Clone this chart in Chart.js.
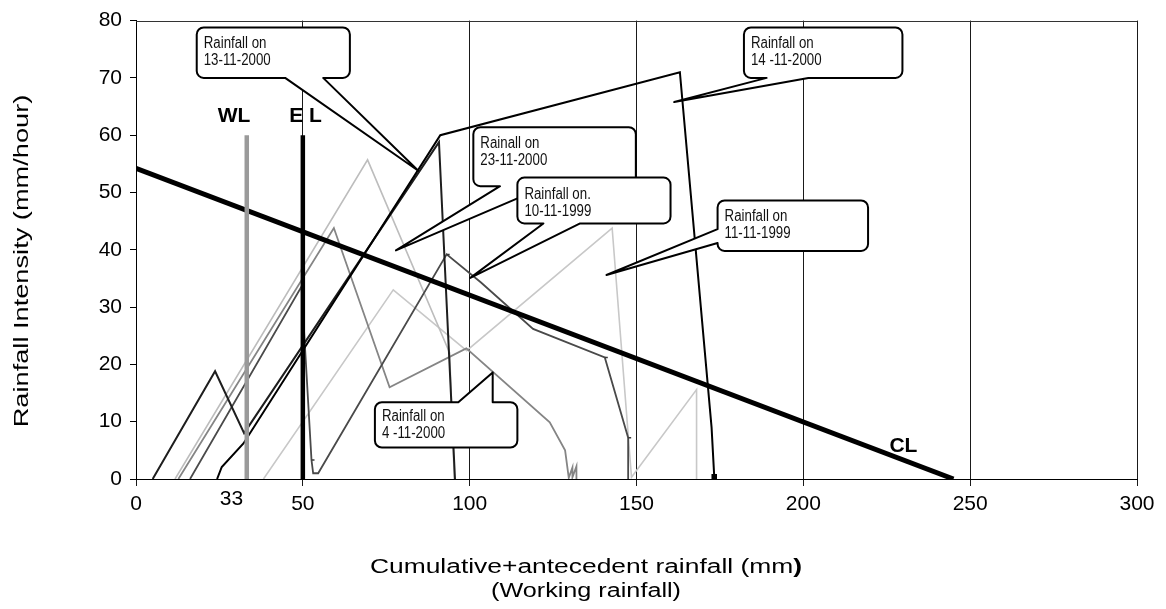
<!DOCTYPE html>
<html>
<head>
<meta charset="utf-8">
<title>Rainfall intensity against working rainfall</title>
<script src="https://cdn.jsdelivr.net/npm/chart.js@4.4.1/dist/chart.umd.min.js"></script>
<style>
  html, body { margin: 0; padding: 0; background: #fff; }
  #wrap { width: 1166px; height: 609px; position: relative; }
</style>
</head>
<body>
<div id="wrap"><canvas id="chart"></canvas></div>
<script>
// axis ticks
const xTickValues = [0, 50, 100, 150, 200, 250, 300];
const yTickValues = [0, 10, 20, 30, 40, 50, 60, 70, 80];
const extraTickLabel = '33';

// threshold lines
const clX = [0, 245];
const clY = [54.2, 0];
const wlX = [33.2, 33.2];
const wlY = [0, 60];
const elX = [50, 50];
const elY = [0, 60];

// rainfall events (cumulative+antecedent rainfall, intensity)
const r1411X = [24.3, 25.7, 32.2, 91.2, 163, 172.5, 173.3];
const r1411Y = [0, 2.1, 6.2, 60, 71, 9, 0.4];
const r1311X = [5, 23.7, 32.4, 90.8, 95.6];
const r1311Y = [0, 18.8, 8, 58.8, 0];
const r1011X = [16.2, 49.6, 52.6, 53.1, 54.6, 93.1, 103.4, 119, 140.5, 147.5, 147.5];
const r1011Y = [0, 33.6, 3.3, 1, 1, 39.2, 34.3, 26.2, 21.2, 7.2, 0];
const r0411X = [12.7, 59.3, 76, 99, 124, 128.6, 129.7, 130.8, 130.8, 132, 132];
const r0411Y = [0, 43.8, 16, 22.8, 9.9, 5, 0.2, 2, 0.3, 2.2, 0];
const r2311X = [11.7, 69.4, 94, 95.4];
const r2311Y = [0, 55.7, 22, 0];
const r1111X = [38.2, 77.1, 99.1, 142.7, 148.5, 168, 168];
const r1111Y = [0, 33, 22.4, 43.8, 0.3, 15.6, 0];

// callout boxes, in data units: box = [left, right, top, bottom]
const callouts = [
  { lines: ['Rainfall on', '13-11-2000'], box: [18.2, 64.1, 78.8, 70.0], side: 'bottom', base: [44.7, 56.1], tip: [84.6, 53.8], pad: 16.5 },
  { lines: ['Rainfall on', '14 -11-2000'], box: [182.2, 229.7, 78.8, 70.0], side: 'bottom', base: [189.0, 201.5], tip: [161.3, 65.8], pad: 16.5 },
  { lines: ['Rainall on', '23-11-2000'], box: [101.1, 149.8, 61.4, 51.1], side: 'bottom', base: [109.1, 122.9], tip: [77.9, 39.9], pad: 16.5 },
  { lines: ['Rainfall on.', '10-11-1999'], box: [114.3, 160.2, 52.6, 44.6], side: 'bottom', base: [122.1, 133.1], tip: [100.2, 35.1], pad: 17 },
  { lines: ['Rainfall on', '11-11-1999'], box: [174.3, 219.4, 48.6, 39.8], side: 'left', base: [41.2, 43.6], tip: [141.0, 35.6], pad: 16 },
  { lines: ['Rainfall on', '4 -11-2000'], box: [71.6, 114.3, 13.4, 5.5], side: 'top', base: [96.6, 106.9], tip: [106.9, 18.6], pad: 14.5 }
];

const lineLabels = [
  { text: 'WL', x: 29.4, y: 63.3 },
  { text: 'E L', x: 50.8, y: 63.3 },
  { text: 'CL', x: 230, y: 5.8 }
];

const FONT = '"Liberation Sans", Arial, Helvetica, sans-serif';

function pts(xs, ys) {
  return xs.map((v, i) => ({ x: v, y: ys[i] }));
}

function series(label, xs, ys, color, width, extra) {
  return Object.assign({
    label: label,
    data: pts(xs, ys),
    showLine: true,
    borderColor: color,
    backgroundColor: color,
    borderWidth: width,
    pointRadius: 0,
    fill: false,
    tension: 0
  }, extra || {});
}

const dashAt = [2, 5, 8, 9];

const datasets = [
  series('EL', elX, elY, '#000', 4.5),
  series('WL', wlX, wlY, '#9a9a9a', 4.5),
  series('CL', clX, clY, '#000', 5),
  series('14-11-2000', r1411X, r1411Y, '#000', 2, {
    pointStyle: 'rect',
    pointRadius: c => (c.dataIndex === r1411X.length - 1 ? 2.5 : 0)
  }),
  series('13-11-2000', r1311X, r1311Y, '#1e1e1e', 2),
  series('10-11-1999', r1011X, r1011Y, '#4a4a4a', 1.8, {
    pointStyle: 'dash',
    pointBorderColor: '#3a3a3a',
    pointBorderWidth: 1.5,
    pointRadius: c => (dashAt.includes(c.dataIndex) ? 3 : 0)
  }),
  series('4-11-2000', r0411X, r0411Y, '#858585', 1.8),
  series('23-11-2000', r2311X, r2311Y, '#bdbdbd', 1.6),
  series('11-11-1999', r1111X, r1111Y, '#c8c8c8', 1.6)
];

function stretchText(ctx, text, x, y, sx) {
  ctx.save();
  ctx.translate(x, y);
  ctx.scale(sx, 1);
  ctx.fillText(text, 0, 0);
  ctx.restore();
}

function drawCallout(ctx, c, px, py) {
  const l = px(c.box[0]), r = px(c.box[1]), t = py(c.box[2]), b = py(c.box[3]);
  const rad = 7;
  const tx = px(c.tip[0]), ty = py(c.tip[1]);
  ctx.beginPath();
  ctx.moveTo(l + rad, t);
  if (c.side === 'top') {
    ctx.lineTo(px(c.base[0]), t);
    ctx.lineTo(tx, ty);
    ctx.lineTo(px(c.base[1]), t);
  }
  ctx.lineTo(r - rad, t);
  ctx.arcTo(r, t, r, t + rad, rad);
  ctx.lineTo(r, b - rad);
  ctx.arcTo(r, b, r - rad, b, rad);
  if (c.side === 'bottom') {
    ctx.lineTo(px(c.base[1]), b);
    ctx.lineTo(tx, ty);
    ctx.lineTo(px(c.base[0]), b);
  }
  ctx.lineTo(l + rad, b);
  ctx.arcTo(l, b, l, b - rad, rad);
  if (c.side === 'left') {
    ctx.lineTo(l, py(c.base[0]));
    ctx.lineTo(tx, ty);
    ctx.lineTo(l, py(c.base[1]));
  }
  ctx.lineTo(l, t + rad);
  ctx.arcTo(l, t, l + rad, t, rad);
  ctx.closePath();
  ctx.fillStyle = '#fff';
  ctx.fill();
  ctx.lineWidth = 2;
  ctx.lineJoin = 'round';
  ctx.strokeStyle = '#000';
  ctx.stroke();

  ctx.fillStyle = '#111';
  ctx.font = '16px ' + FONT;
  ctx.textAlign = 'left';
  ctx.textBaseline = 'middle';
  c.lines.forEach((s, i) => stretchText(ctx, s, l + 7, t + c.pad + i * 17, 0.83));
}

const overlay = {
  id: 'overlay',
  afterDraw(chart) {
    const { ctx, chartArea: a, scales } = chart;
    const px = v => scales.x.getPixelForValue(v);
    const py = v => scales.y.getPixelForValue(v);
    ctx.save();

    // top frame line
    ctx.strokeStyle = '#333';
    ctx.lineWidth = 1;
    ctx.beginPath();
    ctx.moveTo(a.left, Math.round(a.top) + 0.5);
    ctx.lineTo(a.right, Math.round(a.top) + 0.5);
    ctx.stroke();

    // labels of the threshold lines
    ctx.fillStyle = '#000';
    ctx.font = 'bold 21px ' + FONT;
    ctx.textAlign = 'center';
    ctx.textBaseline = 'middle';
    lineLabels.forEach(d => ctx.fillText(d.text, px(d.x), py(d.y)));

    // extra tick label under WL
    ctx.font = '21px ' + FONT;
    ctx.fillText(extraTickLabel, px(28.6), a.bottom + 20);

    // callouts
    callouts.forEach(c => drawCallout(ctx, c, px, py));

    // axis titles
    ctx.fillStyle = '#000';
    ctx.textBaseline = 'middle';
    ctx.textAlign = 'left';
    const t1 = 'Cumulative+antecedent rainfall (mm';
    const sx1 = 1.32;
    ctx.font = '20px ' + FONT;
    const w1 = ctx.measureText(t1).width;
    ctx.font = 'bold 20px ' + FONT;
    const w2 = ctx.measureText(')').width;
    const x0 = 586 - (w1 + w2) * sx1 / 2;
    ctx.font = '20px ' + FONT;
    stretchText(ctx, t1, x0, 567, sx1);
    ctx.font = 'bold 20px ' + FONT;
    stretchText(ctx, ')', x0 + w1 * sx1, 567, sx1);

    ctx.font = '20px ' + FONT;
    ctx.textAlign = 'center';
    stretchText(ctx, '(Working rainfall)', 586, 591, 1.26);

    ctx.save();
    ctx.translate(22, 261);
    ctx.rotate(-Math.PI / 2);
    ctx.scale(1.36, 1);
    ctx.textAlign = 'center';
    ctx.fillText('Rainfall Intensity (mm/hour)', 0, 0);
    ctx.restore();

    ctx.restore();
  }
};

new Chart(document.getElementById('chart'), {
  type: 'scatter',
  data: { datasets: datasets },
  options: {
    responsive: true,
    maintainAspectRatio: false,
    animation: false,
    events: [],
    layout: { padding: { top: 19, right: 29, left: 0, bottom: 0 }, autoPadding: false },
    plugins: { legend: { display: false }, tooltip: { enabled: false } },
    scales: {
      x: {
        type: 'linear',
        min: 0,
        max: 300,
        afterBuildTicks: s => { s.ticks = xTickValues.map(v => ({ value: v })); },
        afterFit: s => { s.height = 130; },
        ticks: { color: '#000', padding: 6, font: { family: FONT, size: 21 } },
        grid: { color: '#1a1a1a', lineWidth: 1, tickLength: 7, drawTicks: true },
        border: { color: '#000', width: 1 }
      },
      y: {
        min: 0,
        max: 80,
        afterBuildTicks: s => { s.ticks = yTickValues.map(v => ({ value: v })); },
        afterFit: s => { s.width = 136; },
        ticks: { color: '#000', padding: 8, font: { family: FONT, size: 21 } },
        grid: { drawOnChartArea: false, color: '#000', tickLength: 6, drawTicks: true },
        border: { color: '#000', width: 1 }
      }
    }
  },
  plugins: [overlay]
});
</script>
</body>
</html>
